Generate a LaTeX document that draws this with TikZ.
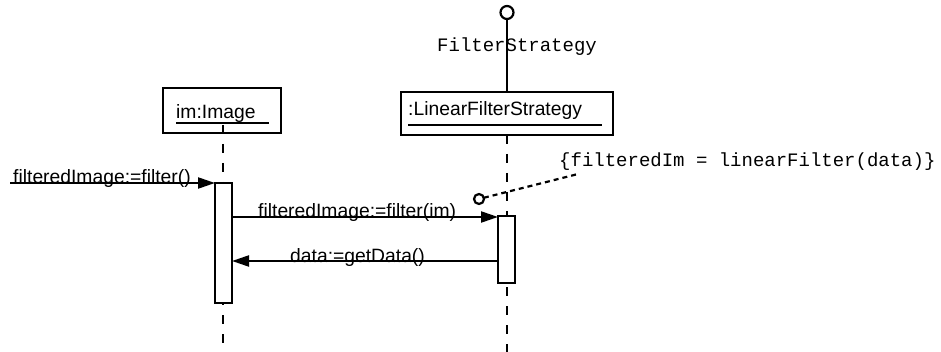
\documentclass[tikz,border=0pt]{standalone}
\usepackage{fontspec}
\setmainfont{Liberation Sans}
\newfontfamily\monofont{Liberation Mono}
\usetikzlibrary{arrows.meta}
\tikzset{
  objbox/.style={draw, line width=2.2pt, fill=white, inner sep=0pt, outer sep=0pt, rectangle},
  actbox/.style={draw, line width=2.2pt, fill=white, inner sep=0pt, outer sep=0pt, minimum width=17pt},
  lifeline/.style={line width=1.3pt, dash pattern=on 9pt off 10pt},
  uline/.style={line width=1.4pt},
  msg/.style={line width=2.2pt, -{Triangle[length=17pt, width=11pt]}},
  lbl/.style={inner sep=0pt, anchor=base west, font=\fontsize{19.3}{22}\selectfont},
  mlbl/.style={inner sep=0pt, anchor=base west, font=\monofont\fontsize{19}{22}\selectfont},
  notelink/.style={line width=2.2pt, dash pattern=on 5pt off 4pt},
  lolly/.style={draw, circle, line width=2.2pt, inner sep=0pt, outer sep=0pt, fill=white}
}
\begin{document}
\begin{tikzpicture}[x=1pt, y=-1pt]
\useasboundingbox (0,0) rectangle (941,352);

% object boxes
\node[objbox, minimum width=118pt, minimum height=45pt] (im) at (222,110.5) {};
\node[objbox, minimum width=212pt, minimum height=43pt] (lfs) at (507,113.5) {};
\node[lbl] (imtxt) at (176,118.5) {im:Image};
\node[lbl] (lfstxt) at (408,115.5) {:LinearFilterStrategy};
\coordinate (imul1) at (176,123);
\coordinate (imul2) at (269,123);
\coordinate (lfsul1) at (408,125);
\coordinate (lfsul2) at (602,125);
\draw[uline] (imul1) -- (imul2);
\draw[uline] (lfsul1) -- (lfsul2);

% interface lollipop
\node[lolly, minimum size=13pt] (iface) at (507,12.5) {};
\draw[line width=2.2pt] (iface.south) -- (lfs.north);
\node[mlbl] (ifacetxt) at (437,52) {FilterStrategy};

% lifelines
\coordinate (imtop) at (223,125);
\coordinate (imbot) at (223,352);
\coordinate (lfsbot) at (507,352);
\draw[lifeline] (imtop) -- (imbot);
\draw[lifeline] (lfs.south) -- (lfsbot);

% activation boxes
\node[actbox, minimum height=120pt] (imact) at (223.5,243) {};
\node[actbox, minimum height=67pt] (lfsact) at (506.5,249.5) {};

% messages
\coordinate (start) at (10,183);
\draw[msg] (start) -- (imact.north west);
\node[lbl] (m1) at (13,184) {filteredImage:=filter()};

\coordinate (m2y) at (0,217);
\draw[msg] (imact.east |- m2y) -- (lfsact.west |- m2y);
\node[lbl] (m2) at (258,218) {filteredImage:=filter(im)};

\coordinate (m3y) at (0,261);
\draw[msg] (lfsact.west |- m3y) -- (imact.east |- m3y);
\node[lbl] (m3) at (290,262.5) {data:=getData()};

% constraint note
\node[lolly, minimum size=10pt] (notec) at (479,199) {};
\node[mlbl] (constraint) at (559,167) {\{filteredIm = linearFilter(data)\}};
\coordinate (noteend) at (578,174);
\draw[notelink] (notec) -- (noteend);
\end{tikzpicture}
\end{document}
